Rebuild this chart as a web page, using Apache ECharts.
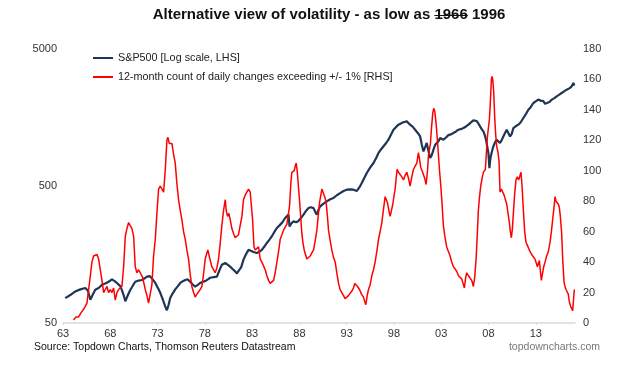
<!DOCTYPE html>
<html>
<head>
<meta charset="utf-8">
<script src="https://cdn.jsdelivr.net/npm/echarts@6/dist/echarts.min.js"></script>
<style>
html,body{margin:0;padding:0;background:#fff;}
#chart{width:629px;height:369px;}
</style>
</head>
<body>
<div id="chart"></div>
<script>
var titleText = 'Alternative view of volatility - as low as 1966 1996';
var titlePrefix = 'Alternative view of volatility - as low as ';
var struckWord = '1966';
var sourceText = 'Source: Topdown Charts, Thomson Reuters Datastream';
var siteText = 'topdowncharts.com';
var seriesNames = ['S&P500 [Log scale, LHS]', '12-month count of daily changes exceeding +/- 1% [RHS]'];
var xStartYear = 1963;
var xTickYears = [1963, 1968, 1973, 1978, 1983, 1988, 1993, 1998, 2003, 2008, 2013];
var leftTicks = [50, 500, 5000];
var rightTicks = [0, 20, 40, 60, 80, 100, 120, 140, 160, 180];

var spxT = [1963.24,1963.77,1964.3,1964.83,1965.36,1965.64,1965.89,1966.13,1966.41,1966.77,1967.12,1967.47,1967.82,1968.18,1968.46,1968.7,1969.06,1969.23,1969.41,1969.59,1969.83,1970.11,1970.4,1970.64,1971.0,1971.35,1971.63,1971.88,1972.16,1972.4,1972.76,1973.04,1973.29,1973.53,1973.81,1973.99,1974.17,1974.34,1974.59,1974.87,1975.15,1975.4,1975.68,1975.93,1976.21,1976.45,1976.7,1976.98,1977.26,1977.51,1977.79,1978.04,1978.32,1978.57,1978.92,1979.28,1979.52,1979.8,1979.98,1980.16,1980.44,1980.68,1980.93,1981.21,1981.39,1981.56,1981.85,1982.09,1982.34,1982.62,1982.8,
1983.15,1983.5,1983.79,1984.03,1984.28,1984.56,1984.84,1985.09,1985.34,1985.62,1985.9,1986.15,1986.32,1986.5,1986.68,1986.85,1986.96,1987.13,1987.38,1987.66,1987.91,1988.16,1988.44,1988.72,1988.97,1989.21,1989.5,1989.71,1989.85,1990.02,1990.2,1990.55,1990.9,1991.26,1991.61,1991.96,1992.31,1992.67,1993.02,1993.37,1993.72,1994.08,1994.36,1994.6,1994.85,1995.13,1995.48,1995.84,1996.12,1996.37,1996.61,1996.9,1997.18,1997.42,1997.67,1997.95,1998.23,1998.48,1998.66,1998.83,1999.08,1999.36,1999.54,1999.71,2000.0,2000.24,2000.52,2000.77,2000.95,2001.12,2001.3,2001.47,2001.65,2001.83,2002.0,2002.18,2002.36,2002.53,2002.71,
2002.88,2003.23,2003.51,2003.76,2004.01,2004.29,2004.57,2004.82,2005.06,2005.35,2005.63,2005.88,2006.12,2006.4,2006.58,2006.76,2006.93,2007.11,2007.28,2007.46,2007.6,2007.74,2007.88,2007.99,2008.1,2008.17,2008.24,2008.38,2008.52,2008.69,2008.87,2009.05,2009.22,2009.4,2009.57,2009.75,2009.93,2010.1,2010.28,2010.46,2010.63,2010.91,2011.16,2011.41,2011.69,2011.97,2012.22,2012.46,2012.75,2013.03,2013.27,2013.52,2013.8,2013.98,2014.15,2014.44,2014.7,2014.93,2015.21,2015.49,2015.74,2015.99,2016.27,2016.55,2016.8,2016.97,2017.08];
var spxV = [76,80,85,88,90,86,74,80,87.5,90,95,97,100,104,101,98,93,87,80,72,79,87,94,100,102,103,106,109,110,106,98,90,83,75,66,62,68,76,82,88,93,98,101,103,104,100,96,92,95,98,100,101,104,107,108,109,120,133,136,137,133,129,124,119,115,113,128,145,158,171,167,
165,162,166,171,180,192,203,215,230,247,258,269,280,292,300,309,253,265,276,272,278,292,309,330,345,350,345,320,309,335,355,372,386,400,409,428,444,460,470,472,470,460,490,526,570,622,680,736,800,871,920,975,1030,1089,1180,1288,1350,1402,1430,1442,1465,1482,1450,1402,1350,1288,1220,1150,1000,894,960,1030,900,800,840,920,1000,1030,1060,
1120,1089,1130,1176,1190,1218,1250,1288,1300,1325,1360,1402,1450,1506,1520,1490,1430,1361,1300,1253,1180,1089,960,871,676,760,822,900,975,1040,1089,1120,1030,1080,1150,1220,1288,1320,1150,1200,1325,1370,1402,1460,1568,1680,1802,1880,2017,2080,2135,2100,2085,1990,1960,2050,2135,2180,2255,2320,2387,2450,2524,2580,2668,2825,2700];

var cntT = [1964.12,1964.37,1964.65,1964.93,1965.18,1965.36,1965.53,1965.71,1965.89,1966.06,1966.24,1966.41,1966.59,1966.77,1966.94,1967.12,1967.3,1967.47,1967.65,1967.82,1968.0,1968.18,1968.35,1968.53,1968.7,1968.88,1969.06,1969.23,1969.41,1969.59,1969.76,1969.94,1970.11,1970.29,1970.47,1970.64,1970.82,1971.0,1971.17,1971.42,1971.7,1971.88,1972.05,1972.23,1972.4,1972.58,1972.76,1972.93,1973.11,1973.29,1973.46,1973.64,1973.81,1973.99,1974.1,1974.24,1974.38,1974.52,1974.69,1974.87,1975.04,1975.22,1975.4,1975.57,1975.75,1975.93,1976.1,1976.28,1976.45,1976.63,1976.81,1976.98,1977.16,1977.33,1977.51,1977.69,1977.86,1978.04,1978.22,1978.32,1978.46,1978.6,1978.74,1978.92,1979.09,1979.27,1979.45,1979.62,1979.8,1979.98,1980.16,1980.26,1980.4,1980.54,1980.68,1980.86,1981.03,1981.21,1981.39,1981.56,1981.74,1981.92,1982.09,1982.27,1982.44,1982.62,1982.8,1982.97,1983.05,1983.2,
1983.33,1983.5,1983.68,1983.86,1984.03,1984.21,1984.39,1984.56,1984.74,1984.91,1985.09,1985.27,1985.44,1985.62,1985.8,1985.97,1986.15,1986.32,1986.5,1986.68,1986.85,1986.96,1987.1,1987.2,1987.35,1987.45,1987.56,1987.66,1987.77,1987.87,1988.01,1988.16,1988.26,1988.37,1988.51,1988.65,1988.79,1988.97,1989.14,1989.32,1989.5,1989.67,1989.85,1989.99,1990.13,1990.27,1990.38,1990.48,1990.59,1990.73,1990.83,1990.97,1991.08,1991.26,1991.43,1991.61,1991.79,1991.96,1992.14,1992.31,1992.49,1992.67,1992.84,1993.02,1993.19,1993.37,1993.55,1993.72,1993.86,1994.0,1994.15,1994.36,1994.57,1994.78,1994.92,1995.03,1995.17,1995.31,1995.48,1995.66,1995.84,1996.01,1996.19,1996.37,1996.54,1996.72,1996.9,1997.07,1997.18,1997.32,1997.46,1997.6,1997.74,1997.88,1998.02,1998.13,1998.23,1998.34,1998.48,1998.66,1998.83,1999.01,1999.18,1999.36,1999.54,1999.71,1999.89,2000.07,2000.24,2000.42,2000.59,2000.7,2000.84,2000.98,2001.12,2001.26,2001.4,2001.55,2001.65,2001.76,2001.86,2001.97,2002.11,2002.21,2002.32,2002.46,2002.6,2002.71,2002.81,2002.96,
2003.06,2003.23,2003.41,2003.58,2003.76,2003.94,2004.11,2004.29,2004.47,2004.64,2004.82,2004.99,2005.17,2005.35,2005.45,2005.59,2005.7,2005.88,2006.05,2006.23,2006.4,2006.54,2006.69,2006.83,2006.93,2007.04,2007.18,2007.32,2007.46,2007.57,2007.67,2007.78,2007.88,2007.99,2008.1,2008.17,2008.24,2008.31,2008.38,2008.45,2008.55,2008.66,2008.76,2008.87,2009.01,2009.12,2009.22,2009.36,2009.5,2009.65,2009.79,2009.93,2010.07,2010.21,2010.31,2010.42,2010.53,2010.63,2010.77,2010.91,2011.05,2011.2,2011.34,2011.44,2011.55,2011.69,2011.83,2011.97,2012.11,2012.25,2012.39,2012.57,2012.75,2012.92,2013.03,2013.17,2013.27,2013.38,2013.49,2013.59,2013.7,2013.84,2013.98,2014.15,2014.33,2014.51,2014.65,2014.79,2014.93,2015.04,2015.14,2015.28,2015.39,2015.49,2015.6,2015.74,2015.85,2015.99,2016.09,2016.2,2016.3,2016.44,2016.55,2016.69,2016.8,2016.9,2016.97,2017.08];
var cntV = [2,4,4,7,9,10,13,22,31,40,44,45,45,42,35,28,20,22,24,20,22,20,23,15,20,22,21,24,37,57,62,66,64,62,57,37,33,35,34,30,22,18,13,12,25,44,55,72,88,90,91,86,100,120,122,118,117,118,111,105,92,81,74,68,60,55,48,42,32,24,20,17,19,20,22,24,32,42,46,48,44,44,37,35,33,36,42,52,64,74,81,74,70,72,68,62,59,56,55,58,57,70,81,84,86,88,86,85,68,50,
48,49,50,42,40,39,35,31,28,26,27,28,33,40,47,55,58,61,63,65,72,77,92,99,98,100,103,105,100,92,81,68,59,53,48,45,42,42,44,46,48,54,61,70,79,84,88,89,87,82,79,70,61,54,48,43,40,33,26,22,20,18,16,16,18,19,21,23,26,26,24,22,19,17,14,12,18,22,25,31,35,40,47,55,60,66,75,83,82,79,74,70,74,78,84,88,95,101,99,99,96,94,97,99,95,90,96,101,103,105,112,108,102,100,99,95,91,100,110,114,118,128,138,141,139,131,120,110,101,90,
81,64,56,50,47,44,40,37,36,34,31,31,29,28,23,30,33,31,31,28,24,30,42,60,74,82,90,95,99,98,101,112,122,128,134,142,151,160,162,160,152,135,124,116,112,106,86,88,88,84,83,78,72,66,60,56,62,72,85,94,96,94,97,99,90,74,60,53,51,49,47,45,44,42,43,37,39,41,34,28,32,37,40,44,47,53,60,68,76,83,80,81,78,76,70,59,42,27,24,22,21,19,14,11,10,8,9,22];

// ---- build series data ----
function pairs(ts, vs, f) {
  var out = [];
  for (var i = 0; i < ts.length; i++) out.push([ts[i] - xStartYear, f ? f(vs[i]) : vs[i]]);
  return out;
}
var logBase = leftTicks[0];
var spxData = pairs(spxT, spxV, function (v) { return Math.log10(v / logBase); });
var cntData = pairs(cntT, cntV);

var FONT = '"Liberation Sans", Arial, sans-serif';
var chart = echarts.init(document.getElementById('chart'), null, {renderer: 'canvas'});

// measure title pieces for the strikethrough
var TITLE_PX = 15;
var cv = document.createElement('canvas').getContext('2d');
cv.font = 'bold ' + TITLE_PX + 'px "Liberation Sans"';
var titleW = cv.measureText(titleText).width;
var titleCx = 329;
var strikeX1 = titleCx - titleW / 2 + cv.measureText(titlePrefix).width;
var strikeX2 = strikeX1 + cv.measureText(struckWord).width;

var option = {
  animation: false,
  backgroundColor: '#ffffff',
  textStyle: {fontFamily: FONT},
  grid: {left: 63, right: 54, top: 49, bottom: 46, containLabel: false},
  legend: {
    orient: 'vertical', left: 93, top: 51.5, padding: 0, itemGap: 6,
    itemWidth: 20, itemHeight: 2, icon: 'rect',
    textStyle: {fontSize: 10.8, color: '#222', fontFamily: FONT, lineHeight: 13},
    data: seriesNames
  },
  graphic: [
    {type: 'text', left: titleCx - titleW / 2, top: 7,
      style: {text: titleText, font: 'bold ' + TITLE_PX + 'px ' + FONT, fill: '#111'}},
    {type: 'line', shape: {x1: strikeX1, y1: 15.5, x2: strikeX2, y2: 15.5},
      style: {stroke: '#111', lineWidth: 1.2}},
    {type: 'text', left: 34, top: 342,
      style: {text: sourceText, font: '10.5px ' + FONT, fill: '#111'}},
    {type: 'text', right: 29, top: 342,
      style: {text: siteText, font: '10.5px ' + FONT, fill: '#777'}}
  ],
  xAxis: {
    type: 'value', min: 0, max: 54.15, interval: 5,
    axisLine: {show: true, lineStyle: {color: '#d9d9d9', width: 1.5}},
    axisTick: {show: true, length: 2, lineStyle: {color: '#d9d9d9'}},
    splitLine: {show: false},
    axisLabel: {
      show: true, margin: 5, fontSize: 11, color: '#333', fontFamily: FONT, showMaxLabel: false,
      formatter: function (v) {
        var y = xStartYear + v;
        if (xTickYears.indexOf(Math.round(y)) < 0 || Math.abs(y - Math.round(y)) > 1e-6) return '';
        return String(Math.round(y) % 100).padStart(2, '0');
      }
    }
  },
  yAxis: [
    {
      type: 'value', min: 0, max: 2, interval: 1, position: 'left',
      axisLine: {show: false}, axisTick: {show: false}, splitLine: {show: false},
      axisLabel: {margin: 6, fontSize: 11, color: '#333', fontFamily: FONT,
        formatter: function (v) { return String(Math.round(logBase * Math.pow(10, v))); }}
    },
    {
      type: 'value', min: 0, max: 180, interval: 20, position: 'right',
      axisLine: {show: false}, axisTick: {show: false}, splitLine: {show: false},
      axisLabel: {margin: 8, fontSize: 11, color: '#333', fontFamily: FONT}
    }
  ],
  series: [
    {name: seriesNames[0], type: 'line', yAxisIndex: 0, data: spxData, showSymbol: false,
      lineStyle: {color: '#1f3556', width: 2.2}, itemStyle: {color: '#1f3556'}},
    {name: seriesNames[1], type: 'line', yAxisIndex: 1, data: cntData, showSymbol: false,
      lineStyle: {color: '#ff0000', width: 1.5}, itemStyle: {color: '#ff0000'}}
  ]
};
chart.setOption(option);
</script>
</body>
</html>
